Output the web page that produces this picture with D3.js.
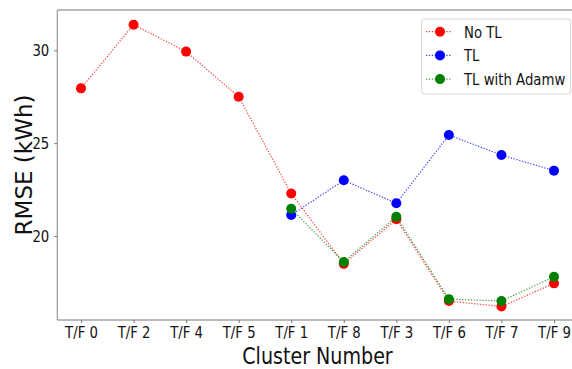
<!DOCTYPE html>
<html>
<head>
<meta charset="utf-8">
<script src="https://cdn.jsdelivr.net/npm/d3@7"></script>
<style>
  html, body { margin: 0; padding: 0; background: #fff; }
  svg { display: block; font-family: "DejaVu Sans", sans-serif; }
</style>
</head>
<body>
<svg id="chart" width="572" height="369"></svg>
<script>
// Cluster order along the x axis
const clusters = ["T/F 0", "T/F 2", "T/F 4", "T/F 5", "T/F 1", "T/F 8", "T/F 3", "T/F 6", "T/F 7", "T/F 9"];

// RMSE (kWh) per cluster; null where a model was not evaluated
const noTL       = [27.95, 31.38, 29.93, 27.5, 22.29, 18.5, 20.9, 16.5, 16.2, 17.45];
const tl         = [null, null, null, null, 21.13, 23.0, 21.76, 25.44, 24.36, 23.52];
const tlAdamw    = [null, null, null, null, 21.47, 18.6, 21.04, 16.6, 16.5, 17.8];

const seriesNames  = ["No TL", "TL", "TL with Adamw"];
const seriesColors = ["#ff0000", "#0000ff", "#008000"];
const seriesValues = [noTL, tl, tlAdamw];

const yTicks = [20, 25, 30];

const svg = d3.select("#chart");
const plot = { left: 57.3, right: 577.7, top: 10, bottom: 320 };
const sx = 0.83; // horizontal squeeze applied to text

const x = d3.scalePoint().domain(clusters).range([81, 554]);
const y = d3.scaleLinear()
  .domain([20 - (plot.bottom - 236) / 18.57, 30 + (50.3 - plot.top) / 18.57])
  .range([plot.bottom, plot.top]);

// Spines
svg.append("line").attr("x1", plot.left).attr("x2", plot.right)
  .attr("y1", plot.top).attr("y2", plot.top).attr("stroke", "#777").attr("stroke-width", 1.2);
svg.append("line").attr("x1", plot.left).attr("x2", plot.right)
  .attr("y1", plot.bottom).attr("y2", plot.bottom).attr("stroke", "#777").attr("stroke-width", 1.2);
svg.append("line").attr("x1", plot.left).attr("x2", plot.left)
  .attr("y1", plot.top).attr("y2", plot.bottom).attr("stroke", "#999").attr("stroke-width", 1.2);
svg.append("line").attr("x1", plot.right).attr("x2", plot.right)
  .attr("y1", plot.top).attr("y2", plot.bottom).attr("stroke", "#777").attr("stroke-width", 1.2);

// X axis
const gx = svg.append("g").attr("transform", `translate(0,${plot.bottom})`)
  .call(d3.axisBottom(x).tickSize(3).tickPadding(4));
gx.select(".domain").remove();
gx.selectAll(".tick line").attr("stroke", "#777");
gx.selectAll(".tick text")
  .attr("fill", "#111").attr("font-size", 16)
  .attr("font-family", "DejaVu Sans, sans-serif")
  .attr("transform", `scale(${sx},1)`);

// Y axis
const gy = svg.append("g").attr("transform", `translate(${plot.left},0)`)
  .call(d3.axisLeft(y).tickValues(yTicks).tickSize(3).tickPadding(6));
gy.select(".domain").remove();
gy.selectAll(".tick line").attr("stroke", "#777");
gy.selectAll(".tick text")
  .attr("fill", "#111").attr("font-size", 16)
  .attr("font-family", "DejaVu Sans, sans-serif")
  .attr("x", -8 / sx)
  .attr("transform", `scale(${sx},1)`);

// Axis titles
svg.append("text")
  .attr("transform", `translate(${(plot.left + plot.right) / 2},364) scale(${sx},1)`)
  .attr("text-anchor", "middle").attr("font-size", 23).attr("fill", "#111")
  .text("Cluster Number");
svg.append("text")
  .attr("transform", `translate(32,${(plot.top + plot.bottom) / 2}) rotate(-90)`)
  .attr("text-anchor", "middle").attr("font-size", 23).attr("fill", "#111")
  .text("RMSE (kWh)");

// Series: dotted lines with round markers
const line = d3.line()
  .defined(d => d.v != null)
  .x(d => x(d.c)).y(d => y(d.v));

seriesValues.forEach((vals, i) => {
  const pts = clusters.map((c, k) => ({ c, v: vals[k] }));
  const g = svg.append("g");
  g.append("path").datum(pts)
    .attr("d", line).attr("fill", "none")
    .attr("stroke", seriesColors[i]).attr("stroke-width", 1.2)
    .attr("stroke-opacity", 0.75)
    .attr("stroke-dasharray", "1.3,1.6");
  g.selectAll("circle").data(pts.filter(d => d.v != null)).join("circle")
    .attr("cx", d => x(d.c)).attr("cy", d => y(d.v))
    .attr("r", 5).attr("fill", seriesColors[i]);
});

// Legend
const lg = svg.append("g");
lg.append("rect").attr("x", 421.7).attr("y", 19).attr("width", 149).attr("height", 75)
  .attr("rx", 2.5).attr("fill", "#fff").attr("fill-opacity", 0.85)
  .attr("stroke", "#d6d6d6").attr("stroke-width", 1);
seriesNames.forEach((name, i) => {
  const cy = 31.7 + i * 23.7;
  lg.append("line").attr("x1", 426).attr("x2", 452).attr("y1", cy).attr("y2", cy)
    .attr("stroke", seriesColors[i]).attr("stroke-width", 1.2).attr("stroke-opacity", 0.75)
    .attr("stroke-dasharray", "1.3,1.6");
  lg.append("circle").attr("cx", 440).attr("cy", cy).attr("r", 5).attr("fill", seriesColors[i]);
  lg.append("text")
    .attr("transform", `translate(464,${cy + 5.8}) scale(${sx},1)`)
    .attr("font-size", 16).attr("fill", "#111").text(name);
});
</script>
</body>
</html>
